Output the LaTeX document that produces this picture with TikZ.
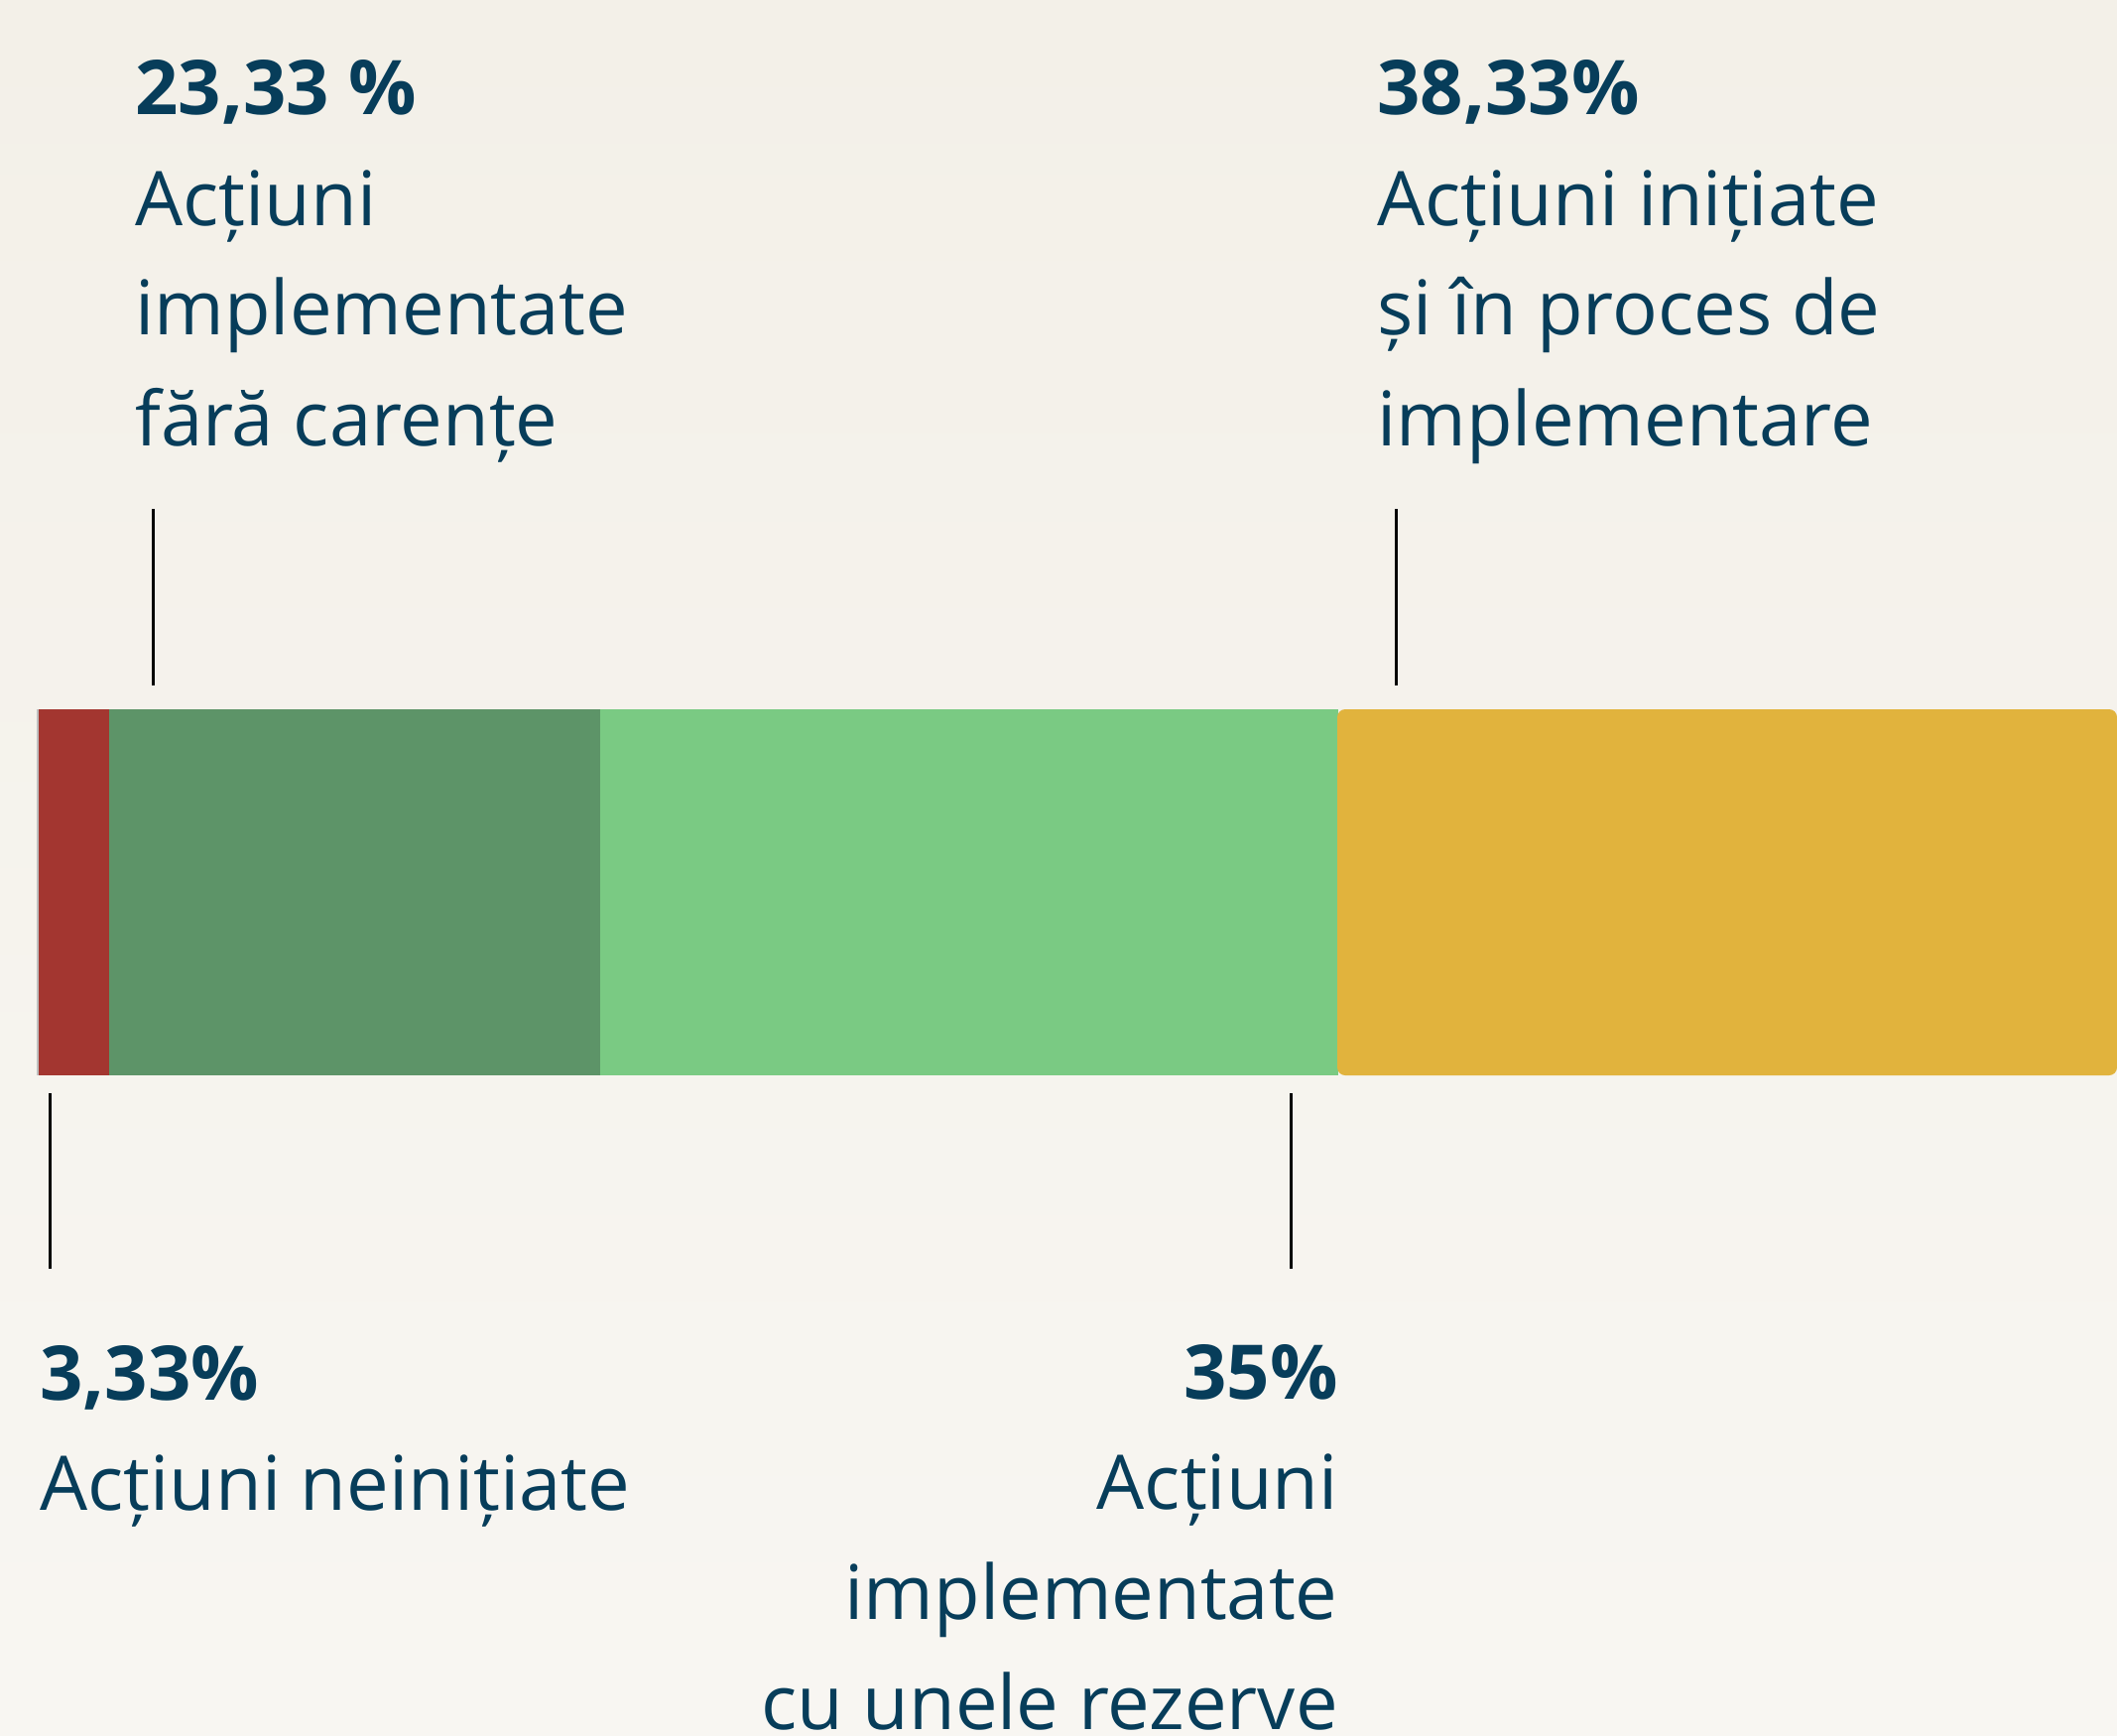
\documentclass[tikz,border=0pt]{standalone}
\usepackage{fontspec}
\setmainfont{Open Sans}
\usetikzlibrary{positioning}
\definecolor{inkblue}{HTML}{073D5A}
\definecolor{bgtop}{HTML}{F3F0E8}
\definecolor{bgbot}{HTML}{F8F6F2}
\definecolor{segred}{HTML}{A33630}
\definecolor{segdark}{HTML}{5D9468}
\definecolor{seglight}{HTML}{7ACA83}
\definecolor{segyellow}{HTML}{E1B33D}
\tikzset{lbl/.style={align=left, anchor=base west, inner sep=0pt, text=inkblue,
		font=\fontsize{38}{55.5}\selectfont},
	lblr/.style={lbl, align=right, anchor=base east},
	tick/.style={draw, line width=1.5pt, black}}

\begin{document}
\begin{tikzpicture}[x=0.5pt,y=-0.5pt]
		\useasboundingbox (0,0) rectangle (2134,1749);
		\shade[top color=bgtop, bottom color=bgbot] (0,0) rectangle (2134,1749);
		
		% bar
		\fill[black!25] (37,715) rectangle (40,1084);
		\fill[segred] (39,715) rectangle (111,1084);
		\fill[segdark] (110,715) rectangle (606,1084);
		\fill[seglight] (605,715) rectangle (1349,1084);
		\fill[segyellow, rounded corners=4pt] (1348,715) -| (2134,1084) -- (1348,1084) -- cycle;
		
		% labels (base = last line)
		\node[lbl](fara)at(136,449){\textbf{23,33 \%}\\Acțiuni\\implementate\\fără carențe};
		\node[lbl](init)at(1388,449){\textbf{38,33\%}\\Acțiuni inițiate\\și în proces de\\implementare};
		\node[lbl](nein)at(40,1522){\textbf{3,33\%}\\Acțiuni neinițiate};
		\node[lblr](rez)at(1349,1743){\textbf{35\%}\\Acțiuni\\implementate\\cu unele rezerve};
		
		% ticks
		\coordinate(fa)at(154,513);\coordinate(fb)at(154,691);
		\coordinate(ia)at(1407,513);\coordinate(ib)at(1407,691);
		\coordinate(na)at(50,1102);\coordinate(nb)at(50,1279);
		\coordinate(ra)at(1301,1102);\coordinate(rb)at(1301,1279);
		\foreach \t in{f,i,n,r}
		\draw[tick](\t a)--(\t b);
	\end{tikzpicture}
\end{document}
